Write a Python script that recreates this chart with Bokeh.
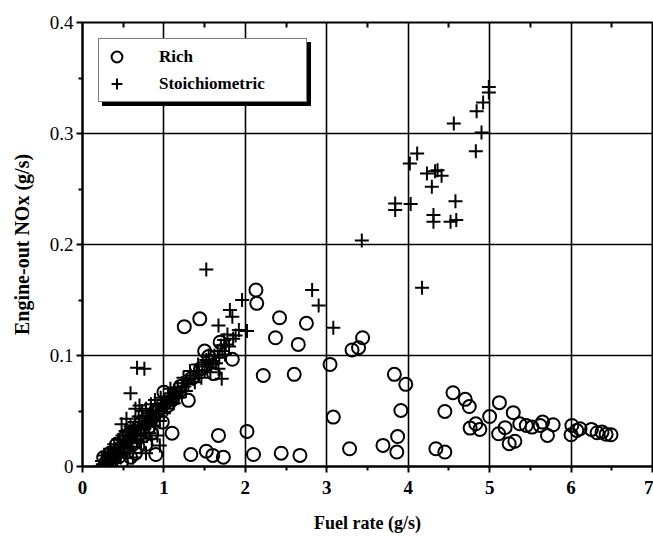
from bokeh.plotting import figure
from bokeh.models import (FixedTicker, LinearAxis, Legend, LegendItem, Range1d)
from bokeh.embed import file_html
from bokeh.resources import INLINE

# ---------------- data ----------------
x_ticks = [0, 1, 2, 3, 4, 5, 6, 7]
y_ticks = [0.0, 0.1, 0.2, 0.3, 0.4]
x_minor = [0.5, 1.5, 2.5, 3.5, 4.5, 5.5, 6.5]
y_minor = [0.05, 0.15, 0.25, 0.35]

rich_x = [3.04, 3.08, 3.28, 3.31, 3.39, 3.44, 3.69, 3.83, 3.87, 3.86, 3.91, 3.97,
          4.34, 4.45, 4.45, 4.55, 4.70, 4.75, 4.76, 4.83, 4.88, 5.00, 5.12, 5.11,
          5.19, 5.24, 5.31, 5.29, 5.37, 5.45, 5.52, 5.62, 5.65, 5.78, 5.71, 6.01,
          6.00, 6.07, 6.11, 6.25, 6.32, 6.38, 6.43, 6.49,
          2.13, 2.14, 1.44, 1.25, 2.42, 2.75, 2.37, 2.65, 1.84, 2.22, 2.60, 1.69,
          1.50, 1.00, 1.30, 1.10, 1.67, 2.02, 1.33, 0.90, 1.52, 1.60, 1.73, 2.10,
          2.44, 2.67, 1.61, 0.59, 1.55,
          0.28, 0.32, 0.36, 0.40, 0.45, 0.50, 0.55, 0.62, 0.68, 0.75, 0.82, 0.88,
          0.93, 1.05, 1.15, 1.20, 1.35, 1.45,
          0.26, 0.34, 0.42, 0.48, 0.52, 0.58, 0.65, 0.72, 0.78, 0.85, 0.98, 1.10]
rich_y = [0.092, 0.0445, 0.016, 0.105, 0.107, 0.116, 0.019, 0.083, 0.027, 0.013, 0.0505, 0.074,
          0.016, 0.013, 0.0496, 0.0665, 0.0605, 0.054, 0.0346, 0.0385, 0.0334, 0.045, 0.0575, 0.0295,
          0.035, 0.0205, 0.0228, 0.0485, 0.0385, 0.037, 0.0355, 0.037, 0.040, 0.0376, 0.028, 0.037,
          0.0286, 0.0325, 0.034, 0.0334, 0.0304, 0.031, 0.029, 0.0286,
          0.159, 0.147, 0.133, 0.126, 0.134, 0.129, 0.116, 0.110, 0.0966, 0.082, 0.083, 0.112,
          0.104, 0.067, 0.0596, 0.030, 0.028, 0.0316, 0.0108, 0.0108, 0.0138, 0.010, 0.0084, 0.0108,
          0.012, 0.010, 0.0837, 0.0084, 0.099,
          0.003, 0.006, 0.005, 0.010, 0.009, 0.016, 0.013, 0.020, 0.018, 0.028, 0.036, 0.045,
          0.050, 0.055, 0.066, 0.072, 0.080, 0.088,
          0.008, 0.012, 0.020, 0.004, 0.026, 0.030, 0.012, 0.040, 0.020, 0.030, 0.040, 0.060]

stoich_x = [4.99, 4.99, 4.92, 4.84, 4.56, 4.90, 4.83, 4.11, 4.02, 4.23, 4.33, 4.36,
            4.41, 4.29, 4.58, 3.84, 3.84, 4.03, 4.31, 4.31, 4.52, 4.59, 4.17, 3.43,
            1.52, 2.82, 2.90, 3.08, 1.96, 1.81, 1.84, 1.67, 1.92, 2.02, 1.88, 1.85,
            1.80, 1.75, 1.71, 1.67, 1.60, 1.55,
            0.67, 0.76, 0.59, 0.65, 0.54, 0.70, 0.48,
            0.72, 0.78, 0.85, 0.92, 0.95, 0.62, 0.55,
            0.25, 0.28, 0.30, 0.32, 0.33, 0.35, 0.36, 0.38, 0.40, 0.41, 0.43, 0.45,
            0.46, 0.48, 0.50, 0.52, 0.54, 0.55, 0.57, 0.58, 0.60, 0.62, 0.63, 0.65,
            0.67, 0.68, 0.70, 0.72, 0.74, 0.75, 0.77, 0.79, 0.80, 0.82, 0.83, 0.85,
            0.87, 0.88, 0.90, 0.92, 0.94, 0.95, 0.97, 0.99, 1.01, 1.03, 1.05, 1.07,
            1.09, 1.11, 1.13, 1.15, 1.17, 1.20, 1.22, 1.25, 1.28, 1.30, 1.33, 1.36,
            1.40, 1.43, 1.47, 1.50, 1.55, 1.58, 1.62, 1.66, 1.70, 1.74, 1.78,
            0.22, 0.24, 0.27, 0.29, 0.31, 0.34, 0.37, 0.39, 0.42, 0.44, 0.47, 0.49,
            0.51, 0.53, 0.56, 0.59, 0.61, 0.64, 0.66, 0.69, 0.71, 0.73, 0.76, 0.78,
            0.81, 0.84, 0.86, 0.89, 0.91, 0.96, 1.00, 1.04, 1.08, 1.12, 1.18, 1.24,
            1.27, 1.32, 1.38, 1.42, 1.46, 1.52, 1.57, 1.64, 1.68, 1.72, 1.76]
stoich_y = [0.342, 0.337, 0.328, 0.320, 0.309, 0.301, 0.284, 0.282, 0.273, 0.264, 0.266, 0.267,
            0.262, 0.252, 0.239, 0.237, 0.231, 0.2365, 0.2265, 0.2205, 0.2205, 0.222, 0.161, 0.2035,
            0.1775, 0.159, 0.145, 0.125, 0.150, 0.141, 0.135, 0.127, 0.123, 0.122, 0.118, 0.115,
            0.108, 0.101, 0.079, 0.088, 0.095, 0.100,
            0.089, 0.088, 0.066, 0.052, 0.043, 0.055, 0.038,
            0.022, 0.012, 0.025, 0.028, 0.019, 0.008, 0.012,
            0.002, 0.004, 0.006, 0.003, 0.009, 0.007, 0.012, 0.010, 0.015, 0.008, 0.018, 0.013,
            0.021, 0.017, 0.024, 0.019, 0.028, 0.022, 0.031, 0.016, 0.026, 0.034, 0.029, 0.037,
            0.024, 0.033, 0.040, 0.035, 0.043, 0.028, 0.038, 0.046, 0.041, 0.030, 0.048, 0.044,
            0.051, 0.037, 0.047, 0.054, 0.050, 0.041, 0.057, 0.053, 0.060, 0.056, 0.063, 0.058,
            0.066, 0.061, 0.068, 0.064, 0.071, 0.067, 0.075, 0.072, 0.078, 0.074, 0.082, 0.079,
            0.086, 0.083, 0.090, 0.087, 0.095, 0.092, 0.100, 0.104, 0.109, 0.114, 0.119,
            0.000, 0.005, 0.010, 0.001, 0.012, 0.016, 0.004, 0.020, 0.012, 0.024, 0.008, 0.028,
            0.013, 0.032, 0.018, 0.036, 0.021, 0.040, 0.030, 0.045, 0.028, 0.050, 0.034, 0.052,
            0.039, 0.056, 0.042, 0.060, 0.045, 0.062, 0.048, 0.052, 0.070, 0.057, 0.062, 0.080,
            0.068, 0.086, 0.076, 0.092, 0.080, 0.096, 0.085, 0.093, 0.098, 0.104, 0.110]

# ---------------- figure ----------------
SERIF = "Liberation Serif"
FRAME_H = 444

p = figure(width=653, height=536, output_backend="svg", toolbar_location=None,
           x_range=Range1d(0, 7), y_range=Range1d(0, 0.4),
           min_border_left=82, min_border_right=1, min_border_top=22, min_border_bottom=70)
p.background_fill_color = "white"
p.border_fill_color = "white"
p.outline_line_color = "black"
p.outline_line_width = 2

for ax in (p.xaxis[0], p.yaxis[0]):
    ax.axis_line_color = "black"
    ax.axis_line_width = 2
    ax.major_tick_line_color = "black"
    ax.major_tick_line_width = 2
    ax.major_tick_in = 0
    ax.major_tick_out = 6
    ax.minor_tick_line_color = "black"
    ax.minor_tick_line_width = 2
    ax.minor_tick_in = 0
    ax.minor_tick_out = 4
    ax.major_label_text_font = SERIF
    ax.major_label_text_font_size = "19px"
    ax.major_label_text_color = "black"
    ax.axis_label_text_font = SERIF
    ax.axis_label_text_font_style = "bold"
    ax.axis_label_text_color = "black"

p.xaxis[0].major_label_text_font_style = "bold"
p.yaxis[0].major_label_text_font_style = "normal"
p.xaxis[0].axis_label_text_font_size = "18px"
p.yaxis[0].axis_label_text_font_size = "20px"

p.xaxis[0].ticker = FixedTicker(ticks=x_ticks, minor_ticks=x_minor)
p.yaxis[0].ticker = FixedTicker(ticks=y_ticks, minor_ticks=y_minor)
p.xaxis[0].axis_label = "Fuel rate (g/s)"
p.yaxis[0].axis_label = "Engine-out NOx (g/s)"
p.xaxis[0].axis_label_standoff = 16
p.yaxis[0].axis_label_standoff = 14
p.yaxis[0].major_label_standoff = 3
p.xaxis[0].major_label_standoff = 8

# top edge: only small inward minor ticks, no labels
top = LinearAxis(ticker=FixedTicker(ticks=[], minor_ticks=x_minor),
                 axis_line_color=None,
                 major_tick_in=0, major_tick_out=0, minor_tick_in=5, minor_tick_out=0,
                 minor_tick_line_width=2, minor_tick_line_color="black")
p.add_layout(top, "above")

p.xgrid.ticker = FixedTicker(ticks=x_ticks)
p.ygrid.ticker = FixedTicker(ticks=y_ticks)
p.xgrid.grid_line_color = "black"
p.ygrid.grid_line_color = "black"
p.xgrid.grid_line_width = 1.6
p.ygrid.grid_line_width = 1.6

r_st = p.scatter(stoich_x, stoich_y, marker="cross", size=14, line_color="black", line_width=2)
r_ri = p.scatter(rich_x, rich_y, marker="circle", size=13, fill_color=None,
                 line_color="black", line_width=2)

def make_legend(loc, shadow):
    labels = [" ", "  "] if shadow else ["Rich", "Stoichiometric"]
    its = [LegendItem(label=labels[0], renderers=[r_ri]),
           LegendItem(label=labels[1], renderers=[r_st])]
    lg = Legend(items=its, location=loc, orientation="vertical")
    lg.padding = 4
    lg.spacing = 0
    lg.glyph_width = 27
    lg.glyph_height = 27
    lg.label_standoff = 29
    lg.label_width = 143
    lg.label_height = 27
    lg.margin = 0
    lg.label_text_font = SERIF
    lg.label_text_font_style = "bold"
    lg.label_text_font_size = "17px"
    lg.label_text_color = "black"
    lg.border_line_color = "black"
    lg.border_line_width = 1.5
    lg.background_fill_alpha = 1
    lg.background_fill_color = "black" if shadow else "white"
    return lg

# location is (x, y) in px from the frame's bottom-left corner
p.add_layout(make_legend((20, FRAME_H - 18 - 62 - 4), True))
p.add_layout(make_legend((16, FRAME_H - 18 - 62), False))

open("out.html", "w").write(file_html(p, INLINE))
